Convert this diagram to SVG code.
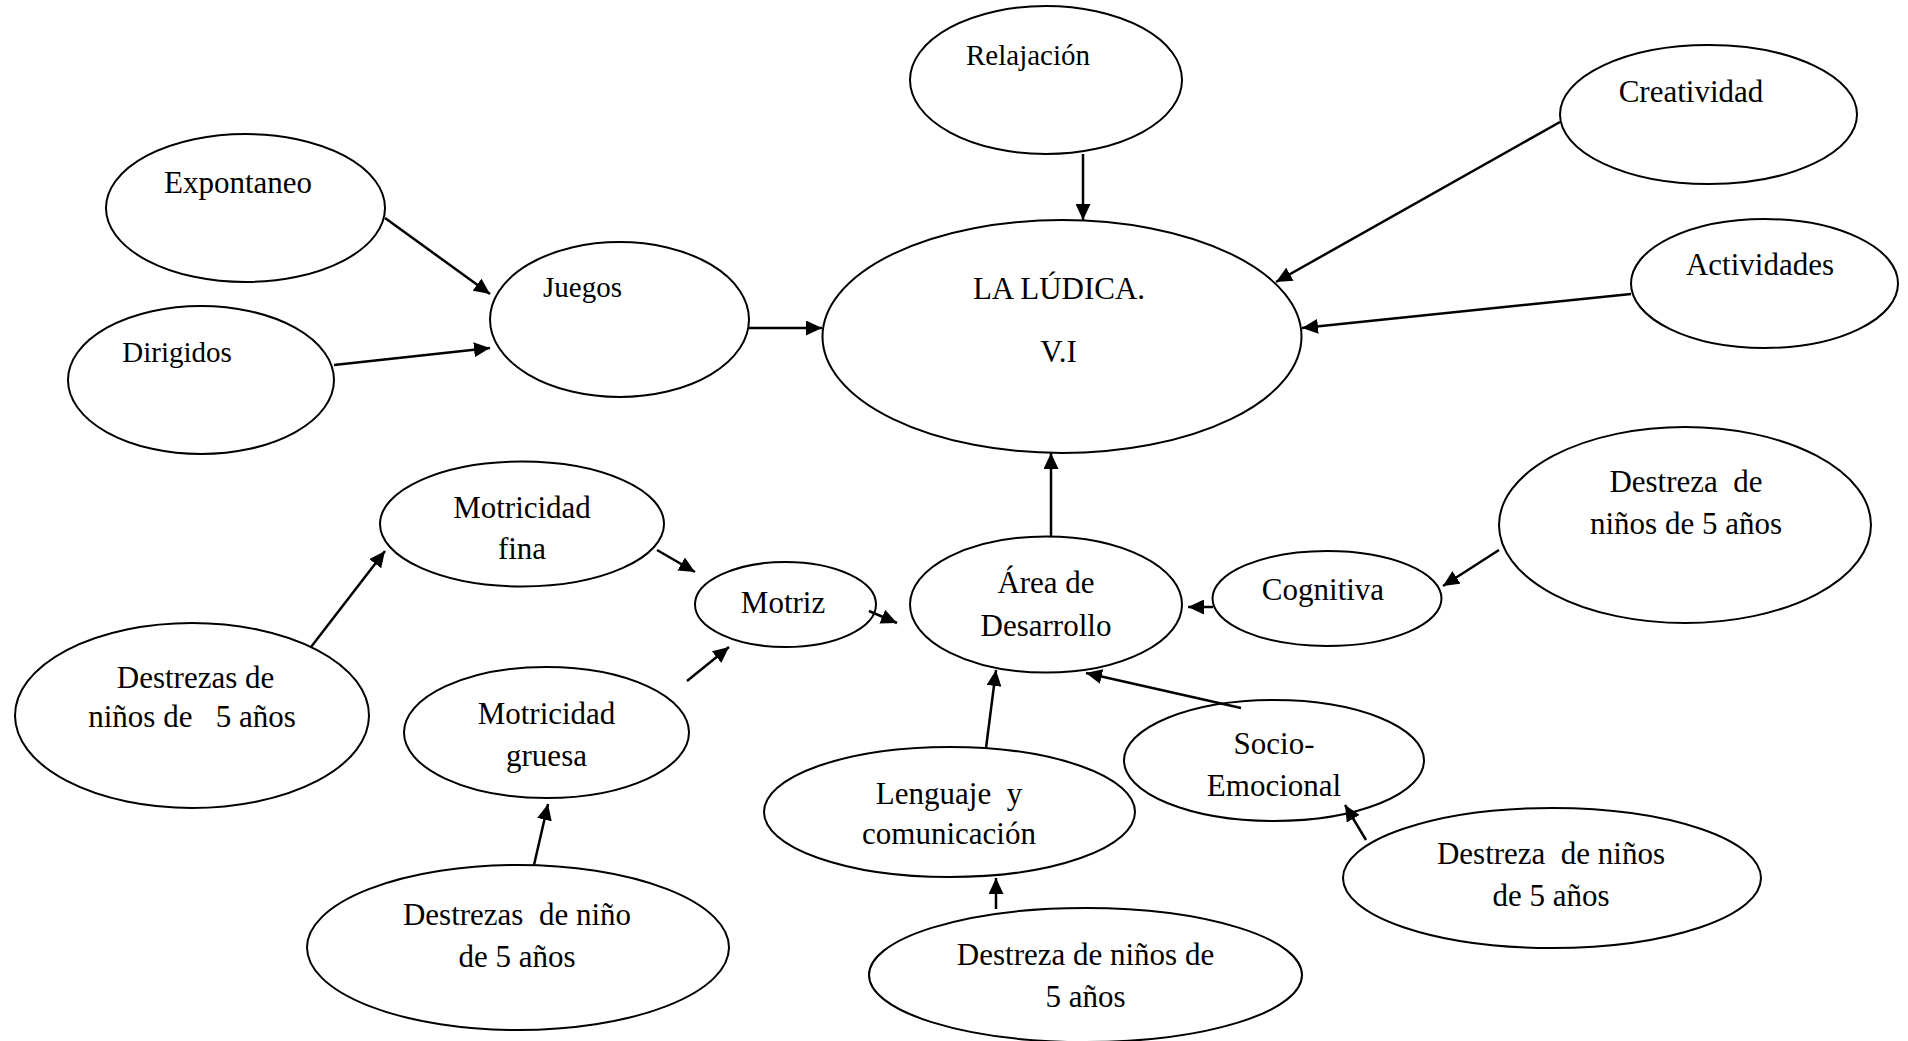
<svg xmlns="http://www.w3.org/2000/svg" width="1908" height="1041" viewBox="0 0 1908 1041">
<defs>
<style>
.n ellipse{fill:#fff;stroke:#000;stroke-width:2}
text{font-family:"Liberation Serif","Times New Roman",serif;font-size:31px;fill:#000;text-anchor:middle;white-space:pre}
text.s{font-size:29px}
.c line{stroke:#000;stroke-width:2.5;marker-end:url(#ah)}
</style>
<marker id="ah" markerUnits="userSpaceOnUse" markerWidth="16" markerHeight="15" refX="16" refY="7.5" orient="auto">
<path d="M0,0 L16,7.5 L0,15 z" fill="#000"/>
</marker>
</defs>
<rect width="1908" height="1041" fill="#fff"/>

<g id="relajacion" class="n"><ellipse cx="1046" cy="80" rx="136" ry="74"/><text class="s" x="1028" y="65">Relajación</text></g>
<g id="creatividad" class="n"><ellipse cx="1708.5" cy="114.5" rx="148.5" ry="69.5"/><text x="1691" y="102">Creatividad</text></g>
<g id="actividades" class="n"><ellipse cx="1764.5" cy="283.5" rx="133.5" ry="64.5"/><text x="1760" y="275">Actividades</text></g>
<g id="expontaneo" class="n"><ellipse cx="245.5" cy="208" rx="139.5" ry="74"/><text x="238" y="193">Expontaneo</text></g>
<g id="dirigidos" class="n"><ellipse cx="201" cy="380" rx="133" ry="74"/><text class="s" x="177" y="362">Dirigidos</text></g>
<g id="juegos" class="n"><ellipse cx="619.5" cy="319.5" rx="129.5" ry="77.5"/><text class="s" x="582.5" y="297">Juegos</text></g>
<g id="ludica" class="n"><ellipse cx="1062" cy="336.5" rx="239.5" ry="116.5"/><text x="1059" y="299">LA LÚDICA.</text><text x="1058.5" y="362">V.I</text></g>
<g id="motricidad-fina" class="n"><ellipse cx="522" cy="524" rx="142" ry="62.5"/><text x="522" y="518">Motricidad</text><text x="522" y="559">fina</text></g>
<g id="motriz" class="n"><ellipse cx="785.5" cy="604.5" rx="90.5" ry="42.5"/><text x="783" y="612.5">Motriz</text></g>
<g id="destrezas-izq" class="n"><ellipse cx="192" cy="715.5" rx="177" ry="92.5"/><text x="195.5" y="688">Destrezas de</text><text x="192" y="727">niños de   5 años</text></g>
<g id="motricidad-gruesa" class="n"><ellipse cx="546.5" cy="732.5" rx="142.5" ry="65.5"/><text x="546.5" y="724">Motricidad</text><text x="546.5" y="766">gruesa</text></g>
<g id="destrezas-abajo" class="n"><ellipse cx="518" cy="947.5" rx="211" ry="82.5"/><text x="517" y="925">Destrezas  de niño</text><text x="517" y="967">de 5 años</text></g>
<g id="area" class="n"><ellipse cx="1046" cy="604.5" rx="136" ry="68"/><text x="1046" y="593">Área de</text><text x="1046" y="635.5">Desarrollo</text></g>
<g id="cognitiva" class="n"><ellipse cx="1327" cy="598.5" rx="114.5" ry="47.5"/><text x="1323" y="600">Cognitiva</text></g>
<g id="destreza-der" class="n"><ellipse cx="1685" cy="525" rx="186" ry="98"/><text x="1686" y="492">Destreza  de</text><text x="1686" y="534">niños de 5 años</text></g>
<g id="lenguaje" class="n"><ellipse cx="949.5" cy="812" rx="185.5" ry="65"/><text x="949" y="804">Lenguaje  y</text><text x="949" y="844">comunicación</text></g>
<g id="socio" class="n"><ellipse cx="1274" cy="760.5" rx="150" ry="60.5"/><text x="1274" y="754">Socio-</text><text x="1274" y="796">Emocional</text></g>
<g id="destreza-socio" class="n"><ellipse cx="1552" cy="878" rx="209" ry="70"/><text x="1551" y="863.5">Destreza  de niños</text><text x="1551" y="905.5">de 5 años</text></g>
<g id="destreza-lenguaje" class="n"><ellipse cx="1085.5" cy="975" rx="216.5" ry="67"/><text x="1085.5" y="965">Destreza de niños de</text><text x="1085.5" y="1007">5 años</text></g>

<g id="connectors" class="c">
<line x1="1083" y1="154" x2="1083" y2="220"/>
<line x1="1560" y1="122" x2="1276" y2="282"/>
<line x1="1631" y1="294" x2="1302" y2="328"/>
<line x1="749" y1="328" x2="822" y2="328"/>
<line x1="385" y1="218" x2="490" y2="294"/>
<line x1="334" y1="365" x2="490" y2="348"/>
<line x1="1051" y1="537" x2="1051" y2="453"/>
<line x1="311" y1="647" x2="385" y2="551"/>
<line x1="657" y1="550" x2="695" y2="572"/>
<line x1="869" y1="611" x2="897" y2="623"/>
<line x1="687" y1="681" x2="729" y2="647"/>
<line x1="534" y1="865" x2="548" y2="804"/>
<line x1="1213" y1="607" x2="1188" y2="607"/>
<line x1="1499" y1="550" x2="1443" y2="586"/>
<line x1="1241" y1="708" x2="1086" y2="673"/>
<line x1="986" y1="748" x2="996" y2="670"/>
<line x1="1366" y1="840" x2="1345" y2="805"/>
<line x1="996" y1="909" x2="996" y2="878"/>
</g>
</svg>
